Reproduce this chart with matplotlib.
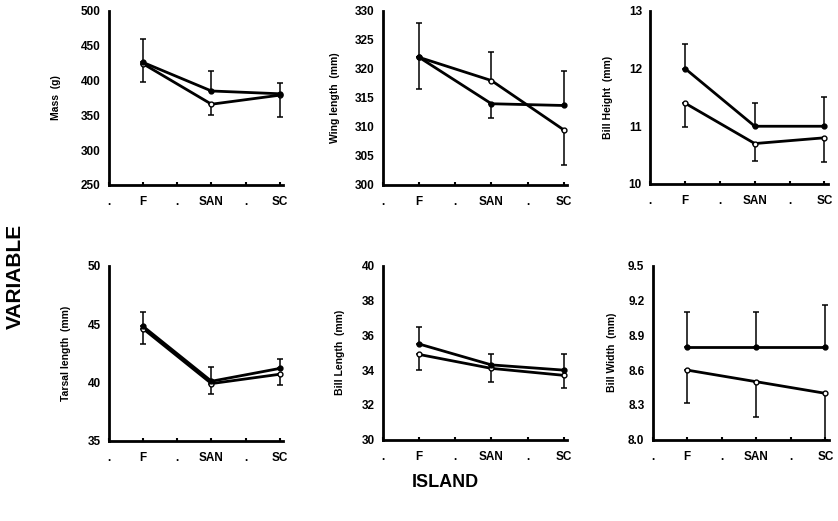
import matplotlib
matplotlib.use("Agg")
import matplotlib.pyplot as plt

plt.rcParams['font.family'] = ['Liberation Sans', 'DejaVu Sans']
plt.rcParams['font.weight'] = 'bold'

# categories along the x axis (dots are spacer ticks)
tick_labels = ['.', 'F', '.', 'SAN', '.', 'SC']
island_pos = [1, 3, 5]

# Mass (g)
mass_filled = [426, 385, 381]
mass_filled_up = [34, 29, 16]
mass_filled_down = [0, 0, 0]
mass_open = [424, 366, 379]
mass_open_up = [0, 0, 0]
mass_open_down = [26, 16, 32]

# Wing length (mm)
wing_filled = [322, 314, 313.7]
wing_filled_up = [0, 0, 6]
wing_filled_down = [5.5, 2.5, 0]
wing_open = [322, 318, 309.5]
wing_open_up = [6, 5, 0]
wing_open_down = [0, 0, 6]

# Bill height (mm)
bh_filled = [12.0, 11.0, 11.0]
bh_filled_up = [0.42, 0.4, 0.5]
bh_filled_down = [0, 0, 0]
bh_open = [11.4, 10.7, 10.8]
bh_open_up = [0, 0, 0]
bh_open_down = [0.42, 0.3, 0.42]

# Tarsal length (mm)
tar_filled = [44.8, 40.1, 41.2]
tar_filled_up = [1.2, 1.2, 0.8]
tar_filled_down = [0, 0, 0]
tar_open = [44.6, 39.9, 40.7]
tar_open_up = [0, 0, 0]
tar_open_down = [1.3, 0.9, 0.9]

# Bill length (mm)
bl_filled = [35.5, 34.3, 34.0]
bl_filled_up = [1.0, 0.6, 0.9]
bl_filled_down = [0, 0, 0]
bl_open = [34.9, 34.1, 33.7]
bl_open_up = [0, 0, 0]
bl_open_down = [0.9, 0.8, 0.7]

# Bill width (mm)
bw_filled = [8.8, 8.8, 8.8]
bw_filled_up = [0.3, 0.3, 0.36]
bw_filled_down = [0, 0, 0]
bw_open = [8.6, 8.5, 8.4]
bw_open_up = [0, 0, 0]
bw_open_down = [0.28, 0.3, 0.4]

panels = [
    ("Mass  (g)", [250, 300, 350, 400, 450, 500], '%d',
     (mass_filled, mass_filled_down, mass_filled_up),
     (mass_open, mass_open_down, mass_open_up),
     [0.130, 0.645, 0.208, 0.334], 14),
    ("Wing length  (mm)", [300, 305, 310, 315, 320, 325, 330], '%d',
     (wing_filled, wing_filled_down, wing_filled_up),
     (wing_open, wing_open_down, wing_open_up),
     [0.457, 0.645, 0.220, 0.334], 11),
    ("Bill Height  (mm)", [10, 11, 12, 13], '%d',
     (bh_filled, bh_filled_down, bh_filled_up),
     (bh_open, bh_open_down, bh_open_up),
     [0.776, 0.647, 0.212, 0.332], 11),
    ("Tarsal length  (mm)", [35, 40, 45, 50], '%d',
     (tar_filled, tar_filled_down, tar_filled_up),
     (tar_open, tar_open_down, tar_open_up),
     [0.130, 0.154, 0.208, 0.336], 12),
    ("Bill Length  (mm)", [30, 32, 34, 36, 38, 40], '%d',
     (bl_filled, bl_filled_down, bl_filled_up),
     (bl_open, bl_open_down, bl_open_up),
     [0.457, 0.156, 0.220, 0.334], 12),
    ("Bill Width  (mm)", [8.0, 8.3, 8.6, 8.9, 9.2, 9.5], '%.1f',
     (bw_filled, bw_filled_down, bw_filled_up),
     (bw_open, bw_open_down, bw_open_up),
     [0.779, 0.156, 0.210, 0.334], 8),
]

fig = plt.figure(figsize=(8.38, 5.21), dpi=100)

for label, yticks, fmt, filled, opened, rect, lpad in panels:
    ax = fig.add_axes(rect)
    for vals, lo, hi, face in [(opened[0], opened[1], opened[2], 'white'),
                               (filled[0], filled[1], filled[2], 'black')]:
        ax.errorbar(island_pos, vals, yerr=[lo, hi], fmt='none',
                    ecolor='black', elinewidth=1.1, capsize=2.5, capthick=1.1)
        ax.plot(island_pos, vals, color='black', lw=2.0, marker='o',
                markersize=3.5, markerfacecolor=face, markeredgecolor='black',
                markeredgewidth=1.0, zorder=3)
    ax.set_xlim(0, 5.1)
    ax.set_ylim(yticks[0], yticks[-1])
    ax.set_xticks(range(len(tick_labels)))
    ax.set_xticklabels(tick_labels)
    ax.set_yticks(yticks)
    ax.set_yticklabels([fmt % v for v in yticks])
    ax.tick_params(axis='x', direction='in', length=2, width=1.5, pad=8,
                   labelsize=8.5)
    ax.tick_params(axis='y', length=0, pad=6, labelsize=8.5)
    for t in ax.get_xticklabels() + ax.get_yticklabels():
        t.set_fontweight('bold')
    ax.spines['top'].set_visible(False)
    ax.spines['right'].set_visible(False)
    ax.spines['left'].set_linewidth(2)
    ax.spines['bottom'].set_linewidth(2)
    ax.set_ylabel(label, fontsize=7.5, fontweight='bold', labelpad=lpad)

fig.text(0.018, 0.47, 'VARIABLE', rotation=90, fontsize=15,
         fontweight='bold', ha='center', va='center')
fig.text(0.531, 0.073, 'ISLAND', fontsize=13, fontweight='bold',
         ha='center', va='center')

fig.savefig('out.png', dpi=100)
